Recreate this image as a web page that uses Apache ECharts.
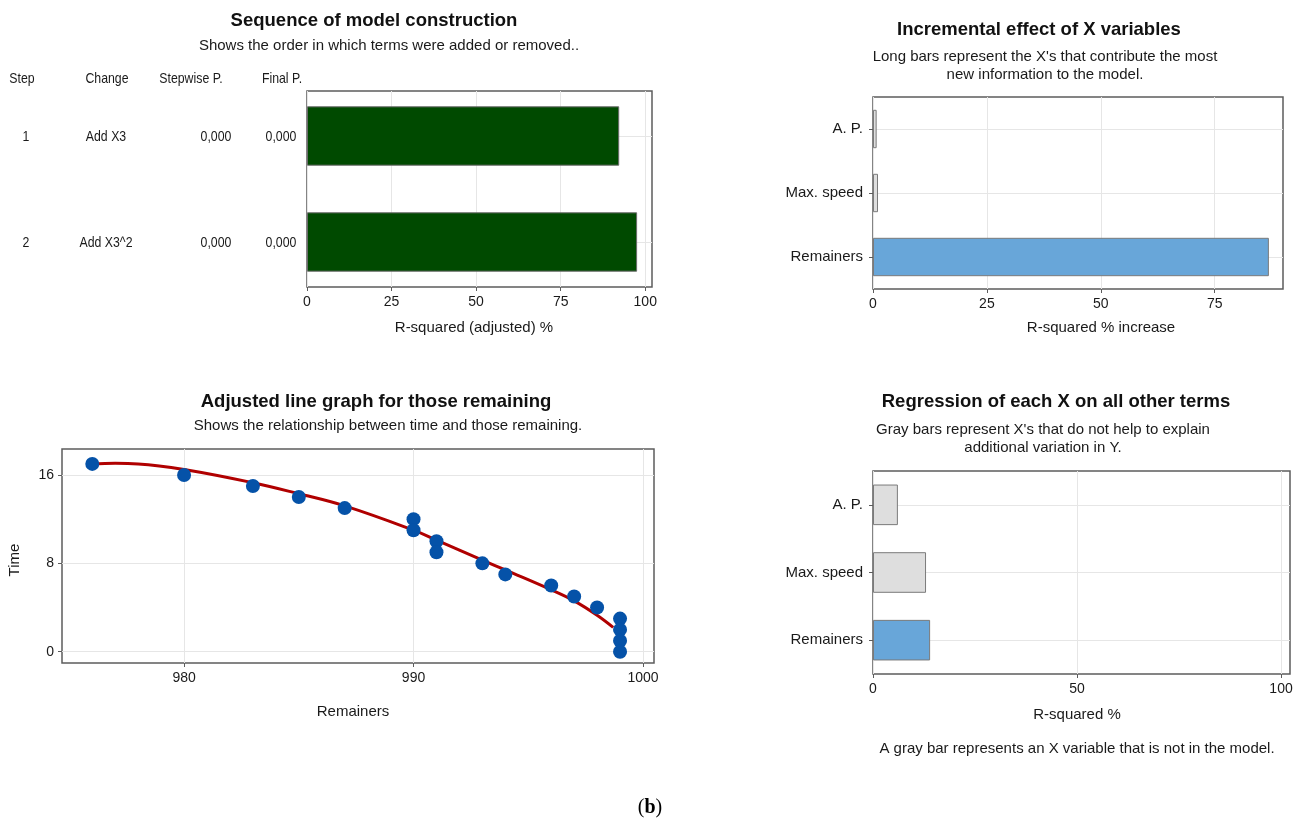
<!DOCTYPE html>
<html><head><meta charset="utf-8">
<script src="https://cdn.jsdelivr.net/npm/echarts@6/dist/echarts.min.js"></script>
<style>html,body{margin:0;padding:0;background:#fff}#c{width:1301px;height:823px}</style>
</head><body><div id="c"></div>
<script>
// ---- Panel 1: sequence of model construction ----
const steps = ['1', '2'];
const changes = ['Add X3', 'Add X3^2'];
const stepwiseP = ['0,000', '0,000'];
const finalP = ['0,000', '0,000'];
const rsqAdjusted = [92.3, 97.6];
const rsqAdjTicks = [0, 25, 50, 75, 100];

// ---- Panel 2: incremental effect ----
const xVars = ['A. P.', 'Max. speed', 'Remainers'];
const inModel = [false, false, true];
const rsqIncrease = [0.8, 1.1, 86.9];
const incTicks = [0, 25, 50, 75];

// ---- Panel 3: adjusted line graph ----
const remainers = [976, 980, 983, 985, 987, 990, 990, 991, 991, 993, 994, 996, 997, 998, 999, 999, 999, 999];
const times = [17, 16, 15, 14, 13, 12, 11, 10, 9, 8, 7, 6, 5, 4, 3, 2, 1, 0];
const fitRemainers = [976, 977, 978, 980, 983, 985, 987, 990, 991, 993, 994, 996, 997, 998, 998.7];
const fitTime = [17.0, 17.05, 17.0, 16.5, 15.3, 14.3, 13.2, 11.0, 10.1, 8.3, 7.4, 5.6, 4.6, 3.3, 2.2];
const remTicks = [980, 990, 1000];
const timeTicks = [0, 8, 16];

// ---- Panel 4: regression of each X on all other terms ----
const rsqOther = [6.1, 13.0, 14.0];
const otherTicks = [0, 50, 100];

const FONT = '"Liberation Sans", Arial, sans-serif';
const TXT = '#1a1a1a';
const BORDER = '#5c5c5c';
const GRIDC = '#e6e6e6';
const BLUE = '#68a6d9';
const GRAY = '#dedede';

const chart = echarts.init(document.getElementById('c'), null, {renderer: 'canvas'});

function gridBox(left, top, width, height) {
  return {left, top, width, height, show: true, borderColor: BORDER, borderWidth: 1.5, backgroundColor: '#fff', containLabel: false};
}
function bareGrid(left, top, width, height) {
  return {left, top, width, height, show: false, containLabel: false};
}
function valueAxis(gi, min, max, ticks) {
  return {
    type: 'value', gridIndex: gi, min, max,
    axisLine: {show: false, onZero: false},
    axisTick: {show: true, length: 4, lineStyle: {color: BORDER}, customValues: ticks},
    axisLabel: {color: TXT, fontSize: 14, fontFamily: FONT, margin: 8, customValues: ticks, formatter: v => String(v)},
    splitLine: {show: true, lineStyle: {color: GRIDC, width: 1}}
  };
}
function hiddenValueAxis(gi, min, max) {
  return {type: 'value', gridIndex: gi, min, max, show: false, splitLine: {show: false}, axisLine: {onZero: false}};
}
function catAxis(gi, cats, showLabel) {
  return {
    type: 'category', gridIndex: gi, data: cats, inverse: true, show: true,
    axisLine: {show: false},
    axisTick: {show: showLabel, alignWithLabel: true, length: 4, lineStyle: {color: BORDER}},
    axisLabel: {show: showLabel, color: TXT, fontSize: 15, fontFamily: FONT, margin: 10},
    splitLine: {show: false}
  };
}
function centerLines(cats) {
  return {
    silent: true, symbol: 'none', z: 1, label: {show: false},
    lineStyle: {color: GRIDC, type: 'solid', width: 1},
    emphasis: {disabled: true},
    data: cats.map(c => ({yAxis: c}))
  };
}

const option = {
  animation: false,
  backgroundColor: '#fff',
  grid: [
    gridBox(307, 91, 345, 196),   // 0: panel 1 frame + value axis
    gridBox(873, 97, 410, 192),   // 1: panel 2
    gridBox(62, 449, 592, 214),   // 2: panel 3
    gridBox(873, 471, 417, 203),  // 3: panel 4
    bareGrid(307, 83, 345, 212)   // 4: panel 1 bars
  ],
  xAxis: [
    valueAxis(0, 0, 102, rsqAdjTicks),
    valueAxis(1, 0, 90, incTicks),
    valueAxis(2, 974.68, 1000.48, remTicks),
    valueAxis(3, 0, 102.2, otherTicks),
    hiddenValueAxis(4, 0, 102)
  ],
  yAxis: [
    hiddenValueAxis(0, 0, 1),
    catAxis(1, xVars, true),
    valueAxis(2, -1.02, 18.35, timeTicks),
    catAxis(3, xVars, true),
    catAxis(4, steps, false)
  ],
  series: [
    {
      type: 'bar', xAxisIndex: 4, yAxisIndex: 4, barWidth: '56%', z: 2,
      itemStyle: {color: '#004a00', borderColor: '#6a6a6a', borderWidth: 1},
      data: rsqAdjusted,
      markLine: centerLines(steps)
    },
    {
      type: 'bar', xAxisIndex: 1, yAxisIndex: 1, barWidth: '60%', z: 2,
      data: rsqIncrease.map((v, i) => ({value: v, itemStyle: {color: inModel[i] ? BLUE : GRAY, borderColor: '#7a7a7a', borderWidth: 1}})),
      markLine: centerLines(xVars)
    },
    {
      type: 'line', xAxisIndex: 2, yAxisIndex: 2, smooth: 0.4, showSymbol: false, z: 2,
      lineStyle: {color: '#b00000', width: 3},
      data: fitRemainers.map((x, i) => [x, fitTime[i]])
    },
    {
      type: 'scatter', xAxisIndex: 2, yAxisIndex: 2, symbolSize: 14, z: 3,
      itemStyle: {color: '#0552a8', opacity: 1},
      data: remainers.map((x, i) => [x, times[i]])
    },
    {
      type: 'bar', xAxisIndex: 3, yAxisIndex: 3, barWidth: '60%', z: 2,
      data: rsqOther.map((v, i) => ({value: v, itemStyle: {color: inModel[i] ? BLUE : GRAY, borderColor: '#7a7a7a', borderWidth: 1}})),
      markLine: centerLines(xVars)
    }
  ]
};
chart.setOption(option);

function t(text, x, y, o) {
  o = o || {};
  return {
    type: 'text', x, y, rotation: o.rotation || 0, scaleX: o.scaleX || 1, z: 10, silent: true,
    style: {
      text, x: 0, y: 0,
      fill: o.color || TXT,
      font: (o.weight || 'normal') + ' ' + (o.size || 15) + 'px ' + FONT,
      textAlign: o.align || 'center', textVerticalAlign: 'middle'
    }
  };
}

const g = [];
const TITLE = {size: 18.5, weight: 'bold', color: '#111'};
const TABLE = {size: 15, scaleX: 0.82};
// Panel 1 texts
g.push(t('Sequence of model construction', 374, 21, TITLE));
g.push(t('Shows the order in which terms were added or removed..', 389, 46));
const colX = [22, 107, 191, 282];
const headers = ['Step', 'Change', 'Stepwise P.', 'Final P.'];
headers.forEach((h, i) => g.push(t(h, colX[i], 79, TABLE)));
const rowX = [26, 106, 216, 281];
steps.forEach((s, i) => {
  const y = chart.convertToPixel({yAxisIndex: 4}, s);
  [s, changes[i], stepwiseP[i], finalP[i]].forEach((v, j) => g.push(t(v, rowX[j], y + 1, TABLE)));
});
g.push(t('R-squared (adjusted) %', 474, 328));

// Panel 2 texts
g.push(t('Incremental effect of X variables', 1039, 30, TITLE));
g.push(t("Long bars represent the X's that contribute the most", 1045, 57));
g.push(t('new information to the model.', 1045, 75));
g.push(t('R-squared % increase', 1101, 328));

// Panel 3 texts
g.push(t('Adjusted line graph for those remaining', 376, 402, TITLE));
g.push(t('Shows the relationship between time and those remaining.', 388, 426));
g.push(t('Time', 15, 560, {rotation: Math.PI / 2}));
g.push(t('Remainers', 353, 712));

// Panel 4 texts
g.push(t('Regression of each X on all other terms', 1056, 402, TITLE));
g.push(t("Gray bars represent X's that do not help to explain", 1043, 430));
g.push(t('additional variation in Y.', 1043, 448));
g.push(t('R-squared %', 1077, 715));
g.push(t('A gray bar represents an X variable that is not in the model.', 1077, 749));

// Figure label
g.push({
  type: 'text', x: 650, y: 808, z: 10, silent: true,
  style: {
    text: '({b|b})', x: 0, y: 0, fill: '#000',
    font: 'normal 20px "Liberation Serif", "Times New Roman", serif',
    textAlign: 'center', textVerticalAlign: 'middle',
    rich: {b: {fontWeight: 'bold', fontSize: 20, fontFamily: '"Liberation Serif", serif', fill: '#000'}}
  }
});

chart.setOption({graphic: g});
</script>
</body></html>
